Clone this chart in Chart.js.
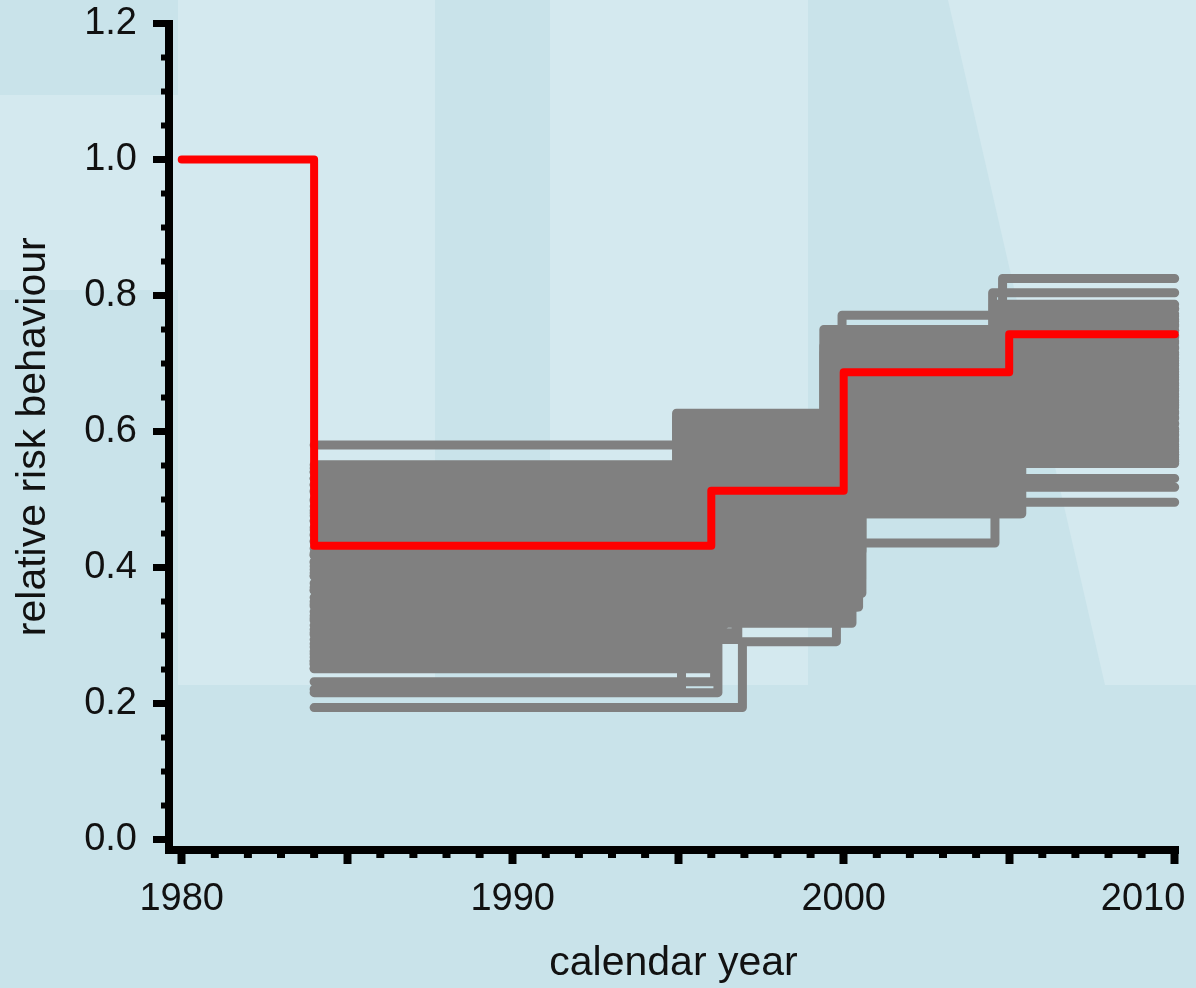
<!DOCTYPE html>
<html>
<head>
<meta charset="utf-8">
<style>
  html, body { margin: 0; padding: 0; background: #c9e3ea; }
  #wrap { width: 1196px; height: 988px; position: relative; }
</style>
<script src="https://cdn.jsdelivr.net/npm/chart.js@4.4.1/dist/chart.umd.min.js"></script>
</head>
<body>
<div id="wrap"><canvas id="chart"></canvas></div>
<script>
// ---------- data ----------
// reference (red) scenario
const redYears = [1980, 1984, 1996, 2000, 2005, 2010];
const redRisk  = [1.0, 0.432, 0.513, 0.687, 0.743, 0.743];

// simulated (grey) scenarios: level from 1984, then three change years with new levels, all ending 2010
const simStartYear = 1984;
const simEndYear = 2010;
const simRisk1 = [0.580,0.546,0.194,0.216,0.221,0.232,0.259,0.252,
  0.540,0.522,0.531,0.498,0.513,0.484,0.476,0.468,0.455,0.447,0.439,0.421,0.418,0.409,0.392,0.388,0.371,0.367,0.350,0.343,0.329,0.322,0.309,0.301,0.288,0.277,0.268,0.263,0.257,0.402,
  0.551,0.541,0.531,0.521,0.511,0.500,0.490,0.480,0.469,0.459,0.449,0.438,0.428,0.418,0.407,0.397,0.387,0.377,0.366,0.356,0.346,0.335,0.325,0.315,0.304,0.294,0.283,0.273,0.262,0.251];
const simChange1 = [1994.95,1994.95,1996.94,1996.20,1995.10,1996.10,1996.00,1996.05,
  1994.96,1994.98,1995.00,1995.02,1995.04,1995.06,1995.08,1995.10,1995.12,1995.14,1995.16,1995.18,1995.20,1995.05,1995.22,1995.09,1995.25,1995.13,1995.28,1995.17,1995.30,1995.11,1995.24,1995.07,1995.21,1995.15,1995.27,1995.19,1995.03,1995.23,
  1996.10,1996.55,1995.95,1996.80,1996.25,1996.65,1996.05,1996.90,1996.35,1996.70,1996.15,1996.85,1996.45,1996.00,1996.60,1996.30,1996.75,1996.20,1996.50,1996.40,1996.65,1996.28,1996.58,1996.38,1996.75,1996.80,1996.12,1996.18,1996.08,1996.15];
const simRisk2 = [0.627,0.620,0.291,0.330,0.338,0.318,0.342,0.362,
  0.611,0.601,0.590,0.580,0.570,0.559,0.549,0.538,0.528,0.518,0.507,0.497,0.487,0.476,0.466,0.456,0.445,0.435,0.424,0.414,0.404,0.393,0.383,0.373,0.362,0.352,0.342,0.333,0.325,0.471,
  0.612,0.598,0.603,0.585,0.577,0.566,0.559,0.545,0.540,0.527,0.515,0.508,0.497,0.486,0.480,0.463,0.458,0.441,0.437,0.420,0.416,0.401,0.394,0.380,0.372,0.365,0.351,0.344,0.338,0.332];
const simChange2 = [1999.40,1999.95,1999.78,2000.15,2000.20,2000.25,2000.45,2000.55,
  2000.10,2000.30,2000.05,2000.40,2000.15,2000.02,2000.35,2000.20,2000.45,2000.08,2000.28,2000.12,2000.38,2000.50,2000.42,2000.53,2000.36,2000.48,2000.55,2000.44,2000.51,2000.40,2000.54,2000.47,2000.52,2000.43,2000.39,2000.22,2000.18,2000.46,
  1999.42,1999.40,1999.44,1999.46,1999.41,1999.48,1999.43,1999.50,1999.45,1999.53,1999.47,1999.55,1999.49,1999.57,1999.52,1999.59,1999.54,1999.56,1999.51,1999.58,1999.60,1999.55,1999.58,1999.53,1999.59,1999.57,1999.60,1999.56,1999.59,1999.60];
const simRisk3 = [0.750,0.771,0.520,0.500,0.560,0.570,0.436,0.479,
  0.742,0.728,0.735,0.716,0.705,0.721,0.694,0.687,0.676,0.662,0.671,0.648,0.653,0.631,0.626,0.612,0.604,0.593,0.585,0.571,0.566,0.552,0.544,0.531,0.523,0.512,0.503,0.495,0.486,0.617,
  0.744,0.726,0.735,0.707,0.716,0.689,0.698,0.670,0.679,0.652,0.661,0.633,0.642,0.615,0.624,0.596,0.605,0.578,0.587,0.559,0.568,0.541,0.550,0.522,0.531,0.504,0.513,0.486,0.495,0.479];
const simChange3 = [2004.80,2004.50,2005.33,2005.36,2005.10,2005.00,2004.57,2005.34,
  2004.52,2004.55,2004.50,2004.60,2004.58,2004.65,2004.62,2004.70,2004.66,2004.74,2004.68,2004.78,2004.72,2004.82,2004.76,2004.86,2004.80,2004.88,2004.84,2004.90,2004.64,2004.87,2004.73,2004.89,2004.79,2004.85,2004.69,2004.81,2004.75,2004.83,
  2005.05,2005.15,2005.00,2005.22,2005.10,2005.30,2005.02,2005.18,2005.08,2005.26,2005.12,2005.04,2005.20,2005.28,2005.06,2005.16,2005.24,2005.14,2005.32,2005.20,2005.09,2005.30,2005.35,2005.28,2005.37,2005.33,2005.25,2005.36,2005.31,2005.38];
const simRisk4 = [0.825,0.804,0.531,0.518,0.600,0.640,0.566,0.496,
  0.787,0.781,0.773,0.765,0.757,0.749,0.741,0.733,0.724,0.716,0.708,0.700,0.692,0.684,0.676,0.668,0.660,0.651,0.643,0.635,0.627,0.619,0.611,0.603,0.594,0.586,0.578,0.570,0.562,0.553,
  0.780,0.770,0.762,0.755,0.748,0.739,0.730,0.722,0.713,0.704,0.697,0.688,0.680,0.671,0.663,0.655,0.646,0.638,0.629,0.621,0.612,0.604,0.596,0.589,0.581,0.574,0.566,0.559,0.557,0.556];

// axes
const xTickYears  = [1980, 1985, 1990, 1995, 2000, 2005, 2010];
const xLabelYears = [1980, 1990, 2000, 2010];
const xMinorYears = [1981,1982,1983,1984,1986,1987,1988,1989,1991,1992,1993,1994,1996,1997,1998,1999,2001,2002,2003,2004,2006,2007,2008,2009];
const yTickValues = [0.0, 0.2, 0.4, 0.6, 0.8, 1.0, 1.2];
const yMinorValues = [0.05,0.10,0.15,0.25,0.30,0.35,0.45,0.50,0.55,0.65,0.70,0.75,0.85,0.90,0.95,1.05,1.10,1.15];
const xTitle = 'calendar year';
const yTitle = 'relative risk behaviour';

// ---------- build datasets ----------
const FONT = "'Liberation Sans', Arial, Helvetica, sans-serif";
const greyDatasets = simRisk1.map((v, i) => ({
  data: [
    { x: simStartYear, y: simRisk1[i] },
    { x: simChange1[i], y: simRisk2[i] },
    { x: simChange2[i], y: simRisk3[i] },
    { x: simChange3[i], y: simRisk4[i] },
    { x: simEndYear,   y: simRisk4[i] }
  ],
  borderColor: '#808080',
  borderWidth: 9,
  stepped: 'before',
  fill: false,
  pointRadius: 0,
  borderCapStyle: 'round',
  borderJoinStyle: 'round',
  order: 1,
  clip: false
}));
const redDataset = {
  data: redYears.map((yr, i) => ({ x: yr, y: redRisk[i] })),
  borderColor: '#ff0000',
  borderWidth: 8,
  stepped: 'before',
  fill: false,
  pointRadius: 0,
  borderCapStyle: 'round',
  borderJoinStyle: 'round',
  order: 0,
  clip: false
};

// last year label is kept inside the canvas (shifted left, as in the original)
const xLabelText = v => {
  if (!xLabelYears.includes(v)) return '';
  return v === xLabelYears[xLabelYears.length - 1] ? String(v) + '\u00a0'.repeat(6) : String(v);
};

// ---------- plugins ----------
const backgroundPlugin = {
  id: 'bgPanels',
  beforeDraw(chart) {
    const ctx = chart.ctx, w = chart.width, h = chart.height;
    ctx.save();
    ctx.fillStyle = '#c9e3ea';
    ctx.fillRect(0, 0, w, h);
    ctx.fillStyle = '#d4e9ef';
    ctx.fillRect(0, 95, 178, 195);
    ctx.fillRect(178, 0, 257, 685);
    ctx.fillRect(550, 0, 258, 685);
    ctx.beginPath();
    ctx.moveTo(948, 0); ctx.lineTo(w, 0); ctx.lineTo(w, 685); ctx.lineTo(1105, 685);
    ctx.closePath(); ctx.fill();
    ctx.restore();
  }
};
const minorTickPlugin = {
  id: 'minorTicks',
  afterDraw(chart) {
    const { ctx, chartArea } = chart;
    const xs = chart.scales.x, ys = chart.scales.y;
    ctx.save();
    ctx.strokeStyle = '#000';
    ctx.lineCap = 'butt';
    ctx.lineWidth = 8;
    xMinorYears.forEach(v => {
      const px = xs.getPixelForValue(v);
      ctx.beginPath(); ctx.moveTo(px, chartArea.bottom); ctx.lineTo(px, chartArea.bottom + 8); ctx.stroke();
    });
    ctx.lineWidth = 6;
    yMinorValues.forEach(v => {
      const py = ys.getPixelForValue(v);
      ctx.beginPath(); ctx.moveTo(chartArea.left, py); ctx.lineTo(chartArea.left - 8, py); ctx.stroke();
    });
    ctx.restore();
  }
};

// ---------- chart ----------
new Chart(document.getElementById('chart'), {
  type: 'line',
  data: { datasets: [redDataset, ...greyDatasets] },
  options: {
    animation: false,
    responsive: true,
    maintainAspectRatio: false,
    devicePixelRatio: 1,
    events: [],
    layout: { padding: { top: 23.5, right: 18, left: 0, bottom: 0 } },
    plugins: { legend: { display: false }, tooltip: { enabled: false } },
    scales: {
      x: {
        type: 'linear',
        min: 1979.616,
        max: 2010.10,
        afterBuildTicks: s => { s.ticks = xTickYears.map(v => ({ value: v })); },
        afterFit: s => { s.height = 138; s.paddingLeft = 0; s.paddingRight = 0; s.paddingTop = 0; s.paddingBottom = 0; },
        ticks: {
          autoSkip: false, maxRotation: 0, minRotation: 0,
          padding: 13,
          color: '#111',
          font: { family: FONT, size: 38 },
          callback: v => xLabelText(v)
        },
        grid: { drawOnChartArea: false, drawTicks: true, tickLength: 14, tickWidth: 8, tickColor: '#000', color: '#000' },
        border: { display: true, color: '#000', width: 8 },
        title: { display: true, text: xTitle, color: '#111', font: { family: FONT, size: 41 }, padding: { top: 0, bottom: 0 } }
      },
      y: {
        type: 'linear',
        min: -0.0154,
        max: 1.2,
        afterBuildTicks: s => { s.ticks = yTickValues.map(v => ({ value: v })); },
        afterFit: s => { s.width = 169; s.paddingLeft = 0; s.paddingRight = 0; s.paddingTop = 0; s.paddingBottom = 0; },
        ticks: {
          padding: 16,
          color: '#111',
          font: { family: FONT, size: 38 },
          callback: v => Number(v).toFixed(1)
        },
        grid: { drawOnChartArea: false, drawTicks: true, tickLength: 16, tickWidth: 7, tickColor: '#000', color: '#000' },
        border: { display: true, color: '#000', width: 8 },
        title: { display: true, text: yTitle, color: '#111', font: { family: FONT, size: 41 }, padding: { top: 9, bottom: 0 } }
      }
    }
  },
  plugins: [backgroundPlugin, minorTickPlugin]
});
</script>
</body>
</html>
